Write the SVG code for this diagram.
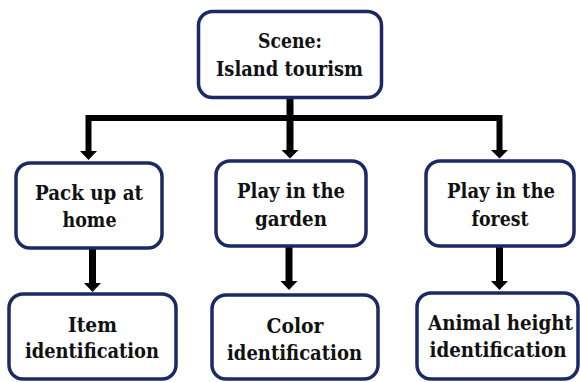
<svg xmlns="http://www.w3.org/2000/svg" width="580" height="382" viewBox="0 0 580 382">
<style>
.box{fill:#fff;stroke:#1c2a64;stroke-width:3.5}
.t{font-family:'DejaVu Serif Condensed','DejaVu Serif','Liberation Serif',serif;font-weight:700;font-size:21px;fill:#111;text-anchor:middle}
.ln{stroke:#000;fill:none}
.hd{fill:#000}
</style>
<rect width="580" height="382" fill="#fff"/>
<g id="connectors">
<line class="ln" x1="290" y1="98" x2="290" y2="151" stroke-width="7"/>
<polyline class="ln" points="88.5,153 88.5,118 499.5,118 499.5,151" stroke-width="6"/>
<polygon class="hd" points="80,151 97,151 88.5,160"/>
<polygon class="hd" points="281.5,150 298.5,150 290,158.5"/>
<polygon class="hd" points="491,150 508,150 499.5,158.5"/>
<line class="ln" x1="92.5" y1="248" x2="92.5" y2="284" stroke-width="7"/>
<polygon class="hd" points="84,283 101,283 92.5,292"/>
<line class="ln" x1="289" y1="246" x2="289" y2="282" stroke-width="7"/>
<polygon class="hd" points="280.5,281 297.5,281 289,290"/>
<line class="ln" x1="499.5" y1="246" x2="499.5" y2="282" stroke-width="7"/>
<polygon class="hd" points="491,281 508,281 499.5,290"/>
</g>
<g id="scene">
<rect class="box" x="198.5" y="11.5" width="183" height="86" rx="14"/>
<text class="t" x="290" y="48" textLength="64" lengthAdjust="spacingAndGlyphs">Scene:</text>
<text class="t" x="289.5" y="76" textLength="147" lengthAdjust="spacingAndGlyphs">Island tourism</text>
</g>
<g id="pack">
<rect class="box" x="16" y="163" width="146" height="85" rx="14"/>
<text class="t" x="89" y="200" textLength="108" lengthAdjust="spacingAndGlyphs">Pack up at</text>
<text class="t" x="89.5" y="227" textLength="54" lengthAdjust="spacingAndGlyphs">home</text>
</g>
<g id="garden">
<rect class="box" x="216" y="161" width="150" height="85" rx="14"/>
<text class="t" x="291" y="198" textLength="108" lengthAdjust="spacingAndGlyphs">Play in the</text>
<text class="t" x="291" y="226" textLength="72" lengthAdjust="spacingAndGlyphs">garden</text>
</g>
<g id="forest">
<rect class="box" x="426" y="161" width="148" height="85" rx="14"/>
<text class="t" x="501" y="198" textLength="108" lengthAdjust="spacingAndGlyphs">Play in the</text>
<text class="t" x="500" y="226" textLength="57" lengthAdjust="spacingAndGlyphs">forest</text>
</g>
<g id="item">
<rect class="box" x="9" y="294" width="167" height="85" rx="14"/>
<text class="t" x="92.5" y="332" textLength="49" lengthAdjust="spacingAndGlyphs">Item</text>
<text class="t" x="92" y="358" textLength="134" lengthAdjust="spacingAndGlyphs">identification</text>
</g>
<g id="color">
<rect class="box" x="212" y="295" width="166" height="84" rx="14"/>
<text class="t" x="295" y="333" textLength="57" lengthAdjust="spacingAndGlyphs">Color</text>
<text class="t" x="294.5" y="360" textLength="135" lengthAdjust="spacingAndGlyphs">identification</text>
</g>
<g id="animal">
<rect class="box" x="417" y="293" width="161" height="86" rx="14"/>
<text class="t" x="500.5" y="330" textLength="145" lengthAdjust="spacingAndGlyphs">Animal height</text>
<text class="t" x="498" y="357" textLength="137" lengthAdjust="spacingAndGlyphs">identification</text>
</g>
</svg>
